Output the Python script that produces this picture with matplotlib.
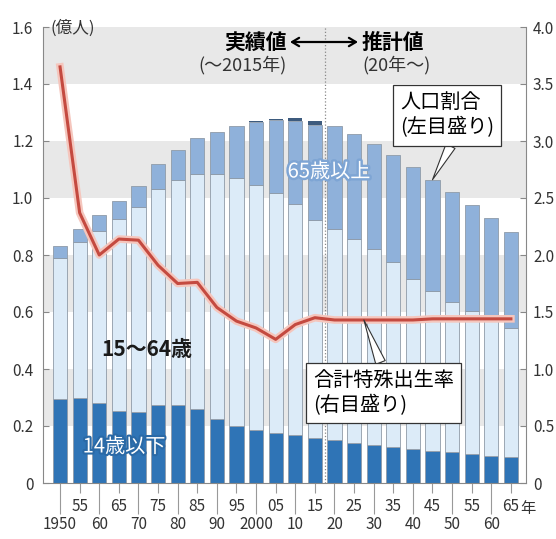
import numpy as np
import matplotlib
matplotlib.use("Agg")
import matplotlib.pyplot as plt
import matplotlib.patheffects as pe

plt.rcParams['font.family'] = ['Noto Sans CJK JP', 'DejaVu Sans']

# 5-year steps, 1950-2065 (2020 onward: projection)
years = list(range(1950, 2070, 5))
year_labels = ['1950', '55', '60', '65', '70', '75', '80', '85', '90', '95',
               '2000', '05', '10', '15', '20', '25', '30', '35', '40', '45',
               '50', '55', '60', '65']

# population, 100 million
pop_0_14 = [0.2943, 0.2980, 0.2807, 0.2517, 0.2482, 0.2722, 0.2751, 0.2603,
            0.2249, 0.2001, 0.1847, 0.1752, 0.1680, 0.1589, 0.1507, 0.1407,
            0.1321, 0.1246, 0.1194, 0.1138, 0.1077, 0.1012, 0.0951, 0.0898]
pop_15_64 = [0.4966, 0.5473, 0.6047, 0.6744, 0.7212, 0.7581, 0.7883, 0.8251,
             0.8590, 0.8716, 0.8622, 0.8409, 0.8103, 0.7629, 0.7406, 0.7170,
             0.6875, 0.6494, 0.5978, 0.5584, 0.5275, 0.5028, 0.4793, 0.4529]
pop_65 = [0.0411, 0.0475, 0.0540, 0.0624, 0.0739, 0.0887, 0.1065, 0.1247,
          0.1489, 0.1826, 0.2204, 0.2567, 0.2925, 0.3347, 0.3619, 0.3677,
          0.3716, 0.3782, 0.3921, 0.3919, 0.3841, 0.3704, 0.3540, 0.3381]
pop_unknown = [0, 0, 0, 0, 0, 0, 0, 0, 0, 0, 0.002, 0.005, 0.0098, 0.0144,
               0, 0, 0, 0, 0, 0, 0, 0, 0, 0]

# total fertility rate (right scale)
tfr = [3.65, 2.37, 2.00, 2.14, 2.13, 1.91, 1.75, 1.76, 1.54, 1.42, 1.36, 1.26,
       1.39, 1.45, 1.43, 1.43, 1.43, 1.43, 1.43, 1.44, 1.44, 1.44, 1.44, 1.44]

c_young = '#2f74b6'
c_work = '#dcebf8'
c_old = '#8fb1da'
c_unk = '#3d5b7e'
c_edge = '#8f9ba8'
c_tick = '#333333'

x = np.arange(len(years))
b1 = np.array(pop_0_14)
b2 = b1 + np.array(pop_15_64)
b3 = b2 + np.array(pop_65)
total = b3 + np.array(pop_unknown)

fig = plt.figure(figsize=(5.56, 5.39), dpi=100)
ax = fig.add_axes([43 / 556, 56 / 539, 483 / 556, 456 / 539])

for lo in [0.2, 0.6, 1.0, 1.4]:
    ax.axhspan(lo, lo + 0.2, color='#e8e8e8', zorder=0, lw=0)

w = 0.72
ax.bar(x, pop_0_14, w, color=c_young, edgecolor=c_edge, lw=0.6, zorder=2)
ax.bar(x, pop_15_64, w, bottom=b1, color=c_work, edgecolor=c_edge, lw=0.6, zorder=2)
ax.bar(x, pop_65, w, bottom=b2, color=c_old, edgecolor=c_edge, lw=0.6, zorder=2)
ax.bar(x, pop_unknown, w, bottom=b3, color=c_unk, lw=0, zorder=2)

# boundary between actual and projected values
ax.axvline(13.5, color='#888888', ls=':', lw=0.9, zorder=3)

ax.set_xlim(-0.87, 23.77)
ax.set_ylim(0, 1.6)
ax.set_yticks(np.arange(0, 1.61, 0.2))
ax.set_yticklabels(['0'] + ['%.1f' % v for v in np.arange(0.2, 1.61, 0.2)])
ax.tick_params(axis='y', direction='in', length=4, width=0.8, color='#888888',
               labelsize=11, labelcolor=c_tick, pad=7)

ax.set_xticks(x[::2])
ax.set_xticklabels(year_labels[::2])
ax.set_xticks(x[1::2], minor=True)
ax.set_xticklabels(year_labels[1::2], minor=True)
ax.tick_params(axis='x', which='major', direction='out', length=22, width=0.8,
               color='#999999', labelsize=11, labelcolor=c_tick, pad=2)
ax.tick_params(axis='x', which='minor', direction='out', length=7, width=0.8,
               color='#999999', labelsize=11, labelcolor=c_tick, pad=4)
ax.annotate('年', xy=(x[-1], 0), xytext=(9, -25), textcoords='offset pixels',
            ha='left', va='center', fontsize=11, color=c_tick)

for s in ['top', 'right']:
    ax.spines[s].set_visible(False)
for s in ['left', 'bottom']:
    ax.spines[s].set_color('#888888')
    ax.spines[s].set_linewidth(0.8)

ax2 = ax.twinx()
ax2.set_ylim(0, 4.0)
ax2.set_yticks(np.arange(0, 4.01, 0.5))
ax2.set_yticklabels(['0'] + ['%.1f' % v for v in np.arange(0.5, 4.01, 0.5)])
ax2.tick_params(axis='y', direction='in', length=4, width=0.8, color='#888888',
                labelsize=11, labelcolor=c_tick, pad=5)
for s in ['top', 'left', 'bottom']:
    ax2.spines[s].set_visible(False)
ax2.spines['right'].set_color('#888888')
ax2.spines['right'].set_linewidth(0.8)

ax2.plot(x, tfr, color='#c44a40', lw=2.2, zorder=5, solid_joinstyle='round',
         path_effects=[pe.Stroke(linewidth=5.5, foreground='#f5c6bd'), pe.Normal()])

H = 539
# labels
fig.text(50, H - 28, '(億人)', transform=None, fontsize=12, color=c_tick,
         ha='left', va='center')
fig.text(287, H - 42, '実績値', transform=None, fontsize=15, fontweight='bold',
         ha='right', va='center')
fig.text(362, H - 42, '推計値', transform=None, fontsize=15, fontweight='bold',
         ha='left', va='center')
ax2.annotate('', xy=(358, H - 42), xytext=(290, H - 42), xycoords='figure pixels',
             textcoords='figure pixels',
             arrowprops=dict(arrowstyle='<->,head_length=0.5,head_width=0.3',
                             lw=1.6, color='black', shrinkA=0, shrinkB=0))
fig.text(242, H - 65, '(～2015年)', transform=None, fontsize=13, color=c_tick,
         ha='center', va='center')
fig.text(396, H - 65, '(20年～)', transform=None, fontsize=13, color=c_tick,
         ha='center', va='center')

fig.text(329, H - 172, '65歳以上', transform=None, fontsize=14.5, color='white',
         ha='center', va='center', zorder=6,
         path_effects=[pe.withStroke(linewidth=3.5, foreground='#7ea5d4')])
fig.text(147, H - 350, '15～64歳', transform=None, fontsize=15, fontweight='bold',
         color='#1a1a1a', ha='center', va='center', zorder=6)
fig.text(124, H - 447, '14歳以下', transform=None, fontsize=14.5, color='white',
         ha='center', va='center', zorder=6,
         path_effects=[pe.withStroke(linewidth=3, foreground='#2a69a6')])

box = dict(boxstyle='square,pad=0.35', fc='white', ec='#333333', lw=0.9)
wedge = dict(arrowstyle='wedge,tail_width=0.5,shrink_factor=0.5', fc='white',
             ec='#333333', lw=0.8, shrinkA=0, shrinkB=0)

ax2.annotate('人口割合\n(左目盛り)', xy=(x[19], total[19]), xycoords=ax.transData,
             xytext=(400, H - 115.5), textcoords='figure pixels',
             ha='left', va='center', fontsize=14.5, linespacing=1.25,
             bbox=box, arrowprops=dict(wedge, relpos=(0.58, 0.0)), zorder=8)

tip_x = 15.5
ax2.annotate('合計特殊出生率\n(右目盛り)', xy=(tip_x, np.interp(tip_x, x, tfr)),
             xytext=(313, H - 393), textcoords='figure pixels',
             ha='left', va='center', fontsize=14.5, linespacing=1.25,
             bbox=box, arrowprops=dict(wedge, relpos=(0.5, 1.0)), zorder=8)

fig.savefig('out.png', dpi=100)
